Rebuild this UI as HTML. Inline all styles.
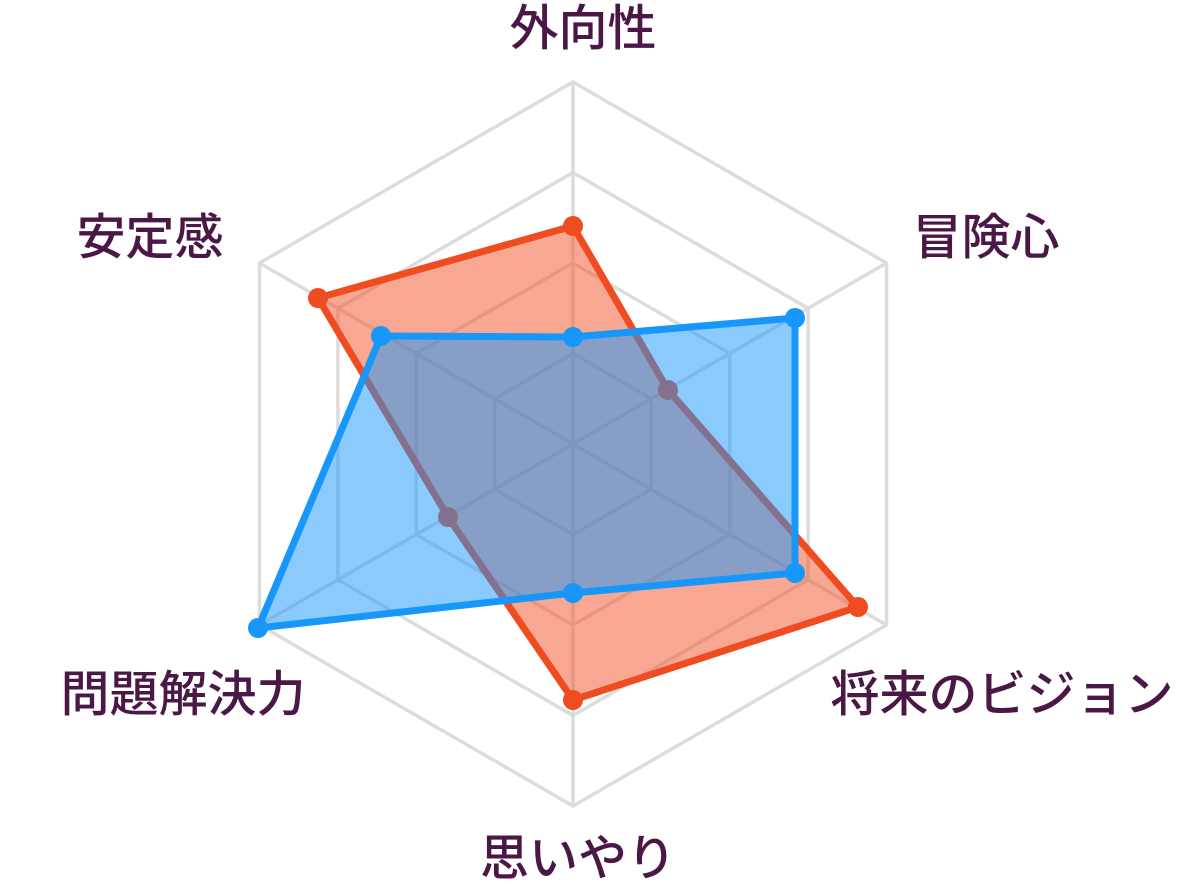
<!DOCTYPE html>
<html><head><meta charset="utf-8"><style>
html,body{margin:0;padding:0;background:#fff;}
svg{display:block;}
text{font-family:"Liberation Sans","Noto Sans CJK JP",sans-serif;font-size:49px;font-weight:500;fill:#4a1747;}
</style></head><body>
<svg width="1192" height="891" viewBox="0 0 1192 891">
<g fill="none" stroke="#dcdcdc" stroke-width="3.5">
<polygon points="573,82 886.5,263 886.5,625 573,806 259.5,625 259.5,263"/>
<polygon points="573,172.5 808.1,308.3 808.1,579.8 573,715.5 337.9,579.8 337.9,308.3"/>
<polygon points="573,263 729.8,353.5 729.8,534.5 573,625 416.2,534.5 416.2,353.5"/>
<polygon points="573,353.5 651.4,398.8 651.4,489.3 573,534.5 494.6,489.3 494.6,398.8"/>
<line x1="573" y1="444" x2="573" y2="82"/>
<line x1="573" y1="444" x2="886.5" y2="263"/>
<line x1="573" y1="444" x2="886.5" y2="625"/>
<line x1="573" y1="444" x2="573" y2="806"/>
<line x1="573" y1="444" x2="259.5" y2="625"/>
<line x1="573" y1="444" x2="259.5" y2="263"/>
</g>
<g>
<polygon points="573,226 668,390 858,607 573,700 448,517 318,298" fill="rgba(242,80,40,0.5)" stroke="#f04c22" stroke-width="7" stroke-linejoin="round"/>
<g fill="#f04c22">
<circle cx="573" cy="226" r="10"/><circle cx="668" cy="390" r="10"/><circle cx="858" cy="607" r="10"/>
<circle cx="573" cy="700" r="10"/><circle cx="448" cy="517" r="10"/><circle cx="318" cy="298" r="10"/>
</g>
</g>
<g>
<polygon points="573,337 795,318 795,573 573,593 258,628 381,336" fill="rgba(22,150,250,0.5)" stroke="#1797fa" stroke-width="7" stroke-linejoin="round"/>
<g fill="#1797fa">
<circle cx="573" cy="337" r="10"/><circle cx="795" cy="318" r="10"/><circle cx="795" cy="573" r="10"/>
<circle cx="573" cy="593" r="10"/><circle cx="258" cy="628" r="10"/><circle cx="381" cy="336" r="10"/>
</g>
</g>
<text x="583" y="45" text-anchor="middle">外向性</text>
<text x="986" y="254" text-anchor="middle">冒険心</text>
<text x="1002" y="711" text-anchor="middle">将来のビジョン</text>
<text x="578" y="875" text-anchor="middle">思いやり</text>
<text x="183" y="711" text-anchor="middle">問題解決力</text>
<text x="150" y="254" text-anchor="middle">安定感</text>
</svg>
</body></html>
